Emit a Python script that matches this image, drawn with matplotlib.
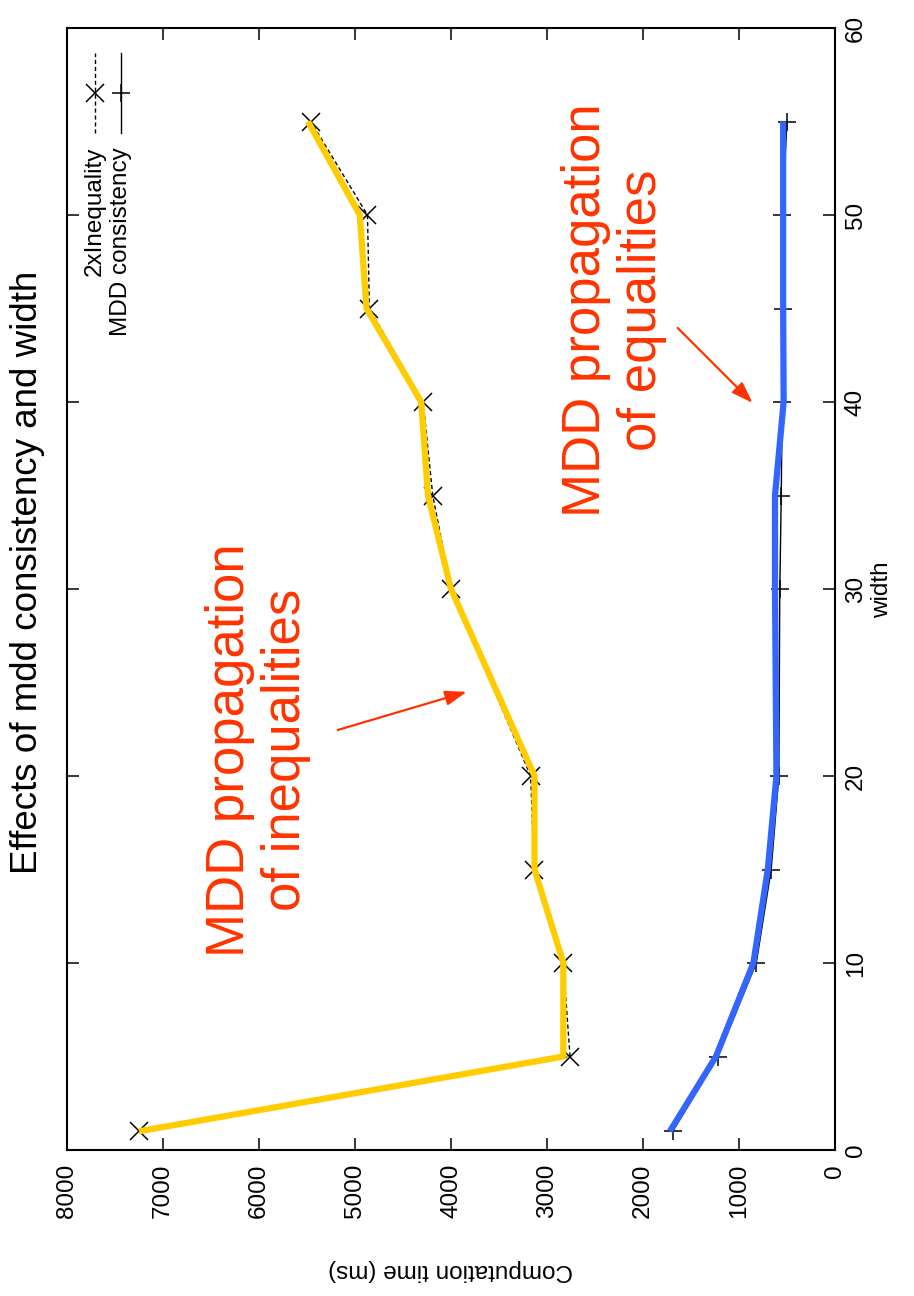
import matplotlib
matplotlib.use("Agg")
import matplotlib.pyplot as plt

plt.rcParams['font.family'] = ['Liberation Sans', 'DejaVu Sans']

# Problem width vs. computation time (ms)
widths = [1, 5, 10, 15, 20, 30, 35, 40, 45, 50, 55]
ineq_ms = [7250, 2760, 2830, 3135, 3170, 4000, 4190, 4290, 4850, 4870, 5460]
mdd_ms = [1690, 1220, 820, 665, 585, 575, 560, 550, 545, 550, 500]

# Hand-drawn highlight strokes laid over the two series
ineq_hl = [7250, 2830, 2830, 3130, 3130, 4000, 4240, 4310, 4880, 4950, 5490]
mdd_hl = [1720, 1240, 850, 700, 610, 625, 625, 535, 540, 540, 540]

time_ticks = list(range(0, 8001, 1000))
width_ticks = list(range(0, 61, 10))

series_names = ["2xInequality", "MDD consistency"]
title = "Effects of mdd consistency and width"
time_label = "Computation time (ms)"
width_label = "width"
note_ineq = "MDD propagation\nof inequalities"
note_eq = "MDD propagation\nof equalities"

W, H = 914, 1296
fig = plt.figure(figsize=(W / 100, H / 100), dpi=100)
ax = fig.add_axes([67 / W, (H - 1150) / H, 768 / W, 1122 / H])

FS = 17.5
RED = "#ff3300"

# The page is turned a quarter turn: time runs right-to-left along the bottom,
# width runs upward along the right side.
ax.plot(ineq_ms, widths, color="black", lw=1.0, ls=(0, (3, 2)),
        marker="x", ms=13, mew=1.1, mfc="none", zorder=2)
ax.plot(mdd_ms, widths, color="black", lw=1.0, ls="-",
        marker="+", ms=13, mew=1.1, zorder=2)
ax.plot(ineq_hl, widths, color="#ffcc00", lw=4.5, solid_joinstyle="miter",
        solid_capstyle="butt", zorder=3)
ax.plot(mdd_hl, widths, color="#3366ff", lw=4.5, solid_joinstyle="miter",
        solid_capstyle="butt", zorder=3)

ax.set_xlim(8000, 0)
ax.set_ylim(0, 60)
ax.set_xticks(time_ticks)
ax.set_yticks(width_ticks)
ax.tick_params(axis="both", direction="in", length=8.5, width=1.1,
               top=True, bottom=True, left=True, right=True, labelsize=FS)
ax.tick_params(axis="x", labelrotation=90, pad=10)
ax.tick_params(axis="y", labelleft=False, labelright=True, labelrotation=90, pad=7)
for lab in ax.get_yticklabels():
    lab.set_verticalalignment("center")
for sp in ax.spines.values():
    sp.set_linewidth(1.5)

# Axis titles and figure title, turned with the page
fig.text(28 / W, 1 - 572 / H, title, rotation=90, ha="center", va="center",
         fontsize=26.5)
fig.text(451 / W, 1 - 1270 / H, time_label, rotation=180, ha="center",
         va="center", fontsize=FS)
fig.text(882 / W, 1 - 590 / H, width_label, rotation=90, ha="center",
         va="center", fontsize=FS)

# Key, written along the left edge of the plot
key_x = [0.036, 0.070]
key_styles = [dict(ls=(0, (3, 2)), marker="x"), dict(ls="-", marker="+")]
for name, kx, st in zip(series_names, key_x, key_styles):
    ax.text(kx, 0.894, name, transform=ax.transAxes, rotation=90,
            ha="center", va="top", fontsize=FS)
    ax.plot([kx, kx], [0.906, 0.978], transform=ax.transAxes, color="black",
            lw=1.0, ls=st["ls"])
    ax.plot([kx], [0.942], transform=ax.transAxes, color="black",
            marker=st["marker"], ms=13, mew=1.1, ls="none")

# Red call-outs
arrow_style = dict(arrowstyle="-|>,head_length=1.3,head_width=0.45",
                   color=RED, lw=1.6, shrinkA=0, shrinkB=0)
ax.text(6013, 21.4, note_ineq, rotation=90, ha="center", va="center",
        multialignment="center", fontsize=38, color=RED, linespacing=1.15)
ax.annotate("", xy=(3836, 24.5), xytext=(5180, 22.46), arrowprops=arrow_style)
ax.text(2300, 44.9, note_eq, rotation=90, ha="center", va="center",
        multialignment="center", fontsize=38, color=RED, linespacing=1.15)
ax.annotate("", xy=(858, 39.95), xytext=(1639, 43.96), arrowprops=arrow_style)

fig.savefig("out.png", dpi=100)
